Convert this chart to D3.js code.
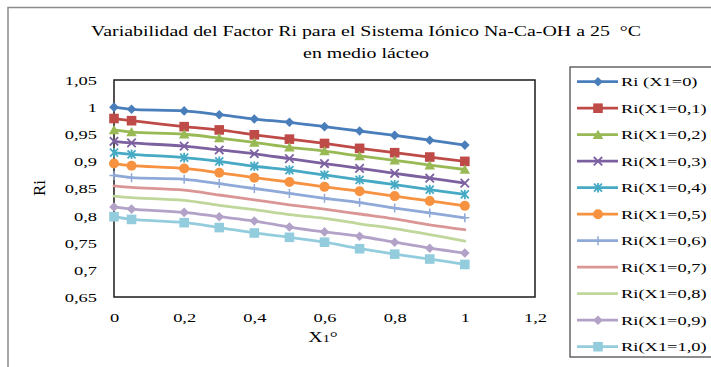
<!DOCTYPE html>
<html>
<head>
<meta charset="utf-8">
<script src="https://cdn.jsdelivr.net/npm/d3@7"></script>
<style>
  html, body { margin: 0; padding: 0; background: #ffffff; }
  svg { display: block; }
  text { font-family: "Liberation Serif", "Times New Roman", serif; fill: #000; white-space: pre; }
</style>
</head>
<body>
<svg id="chart" width="711" height="367"></svg>
<script>
// Fracción X1° (eje horizontal)
const x1Values = [0, 0.05, 0.2, 0.3, 0.4, 0.5, 0.6, 0.7, 0.8, 0.9, 1.0];

// Nombres de las series
const seriesNames = [
  "Ri (X1=0)", "Ri(X1=0,1)", "Ri(X1=0,2)", "Ri(X1=0,3)", "Ri(X1=0,4)", "Ri(X1=0,5)",
  "Ri(X1=0,6)", "Ri(X1=0,7)", "Ri(X1=0,8)", "Ri(X1=0,9)", "Ri(X1=1,0)"
];

// Valores de Ri por serie
const ri00 = [1.000, 0.996, 0.993, 0.986, 0.978, 0.972, 0.964, 0.956, 0.948, 0.939, 0.930];
const ri01 = [0.979, 0.975, 0.964, 0.958, 0.949, 0.941, 0.933, 0.924, 0.916, 0.908, 0.900];
const ri02 = [0.958, 0.954, 0.950, 0.943, 0.935, 0.926, 0.919, 0.910, 0.902, 0.893, 0.885];
const ri03 = [0.937, 0.934, 0.928, 0.921, 0.914, 0.905, 0.896, 0.887, 0.878, 0.869, 0.860];
const ri04 = [0.916, 0.913, 0.907, 0.900, 0.891, 0.884, 0.875, 0.866, 0.857, 0.848, 0.839];
const ri05 = [0.896, 0.892, 0.887, 0.879, 0.870, 0.862, 0.853, 0.845, 0.836, 0.827, 0.818];
const ri06 = [0.874, 0.870, 0.867, 0.859, 0.850, 0.841, 0.832, 0.824, 0.814, 0.805, 0.796];
const ri07 = [0.855, 0.852, 0.847, 0.838, 0.829, 0.820, 0.812, 0.803, 0.794, 0.783, 0.774];
const ri08 = [0.836, 0.833, 0.828, 0.819, 0.811, 0.802, 0.795, 0.785, 0.776, 0.765, 0.753];
const ri09 = [0.816, 0.812, 0.806, 0.798, 0.790, 0.779, 0.770, 0.762, 0.751, 0.740, 0.731];
const ri10 = [0.798, 0.793, 0.787, 0.778, 0.768, 0.760, 0.751, 0.739, 0.729, 0.720, 0.710];

// Marcas de los ejes
const yTickValues = [0.65, 0.7, 0.75, 0.8, 0.85, 0.9, 0.95, 1.0, 1.05];
const xTickValues = [0, 0.2, 0.4, 0.6, 0.8, 1.0, 1.2];

const titleLines = ["Variabilidad del Factor Ri para el Sistema Iónico Na-Ca-OH a 25  °C", "en medio lácteo"];

const seriesValues = [ri00, ri01, ri02, ri03, ri04, ri05, ri06, ri07, ri08, ri09, ri10];
const colors = ["#4A7EBB", "#BE4B48", "#98B954", "#7D60A0", "#46AAC5", "#F69240",
                "#8FA9D8", "#DA9694", "#BFD79A", "#B3A2C7", "#93CDDD"];
const markers = ["diamond", "square", "triangle", "cross", "star", "circle",
                 "plus", "none", "none", "diamond", "square"];

const SX = 1.42; // estiramiento horizontal del texto
const svg = d3.select("#chart");

// Marco exterior del gráfico
svg.append("path")
  .attr("d", "M8,370 L8,7.5 L715,7.5")
  .attr("fill", "none").attr("stroke", "#8c8c8c").attr("stroke-width", 1.5);

// Título
const title = svg.append("g");
titleLines.forEach((t, i) => {
  title.append("text")
    .attr("transform", `translate(366,${36 + i * 22}) scale(${SX},1)`)
    .attr("text-anchor", "middle")
    .attr("font-size", 14)
    .text(t);
});

const plot = { left: 114, right: 535, top: 80, bottom: 297 };
const x = d3.scaleLinear().domain([0, 1.2]).range([plot.left, plot.right]);
const y = d3.scaleLinear().domain([0.65, 1.05]).range([plot.bottom, plot.top]);

const loc = d3.formatLocale({ decimal: ",", thousands: ".", grouping: [3], currency: ["", ""] });

// Eje Y
const yAxis = svg.append("g")
  .attr("transform", `translate(${plot.left},0)`)
  .call(d3.axisLeft(y).tickValues(yTickValues).tickFormat(loc.format(".2~f")).tickSize(0));
yAxis.select(".domain").remove();
yAxis.selectAll("text")
  .attr("x", 0).attr("dy", null)
  .attr("font-family", null).attr("font-size", 13)
  .attr("dominant-baseline", "central")
  .attr("transform", `translate(-17,0) scale(${SX},1)`);

// Eje X
const xAxis = svg.append("g")
  .attr("transform", `translate(0,${plot.bottom})`)
  .call(d3.axisBottom(x).tickValues(xTickValues).tickFormat(loc.format(".1~f")).tickSize(0));
xAxis.select(".domain").remove();
xAxis.selectAll("text")
  .attr("y", 0).attr("dy", null)
  .attr("font-family", null).attr("font-size", 13)
  .attr("dominant-baseline", "central")
  .attr("transform", `translate(0,21) scale(${SX},1)`);

// Marco del área de trazado
svg.append("rect")
  .attr("x", plot.left).attr("y", plot.top)
  .attr("width", plot.right - plot.left).attr("height", plot.bottom - plot.top)
  .attr("fill", "none").attr("stroke", "#1a1a1a").attr("stroke-width", 1.5);

// Títulos de los ejes
const xTitle = svg.append("text")
  .attr("transform", `translate(323,342) scale(${SX},1)`)
  .attr("text-anchor", "middle").attr("font-size", 14);
xTitle.append("tspan").text("X");
xTitle.append("tspan").attr("font-size", 10).text("1");
xTitle.append("tspan").text("°");

svg.append("text")
  .attr("transform", "translate(45,188) rotate(-90)")
  .attr("text-anchor", "middle").attr("font-size", 17)
  .text("Ri");

// Dibujo de marcadores
function drawMarker(g, type, color) {
  if (type === "diamond") {
    const r = 4.8;
    g.append("path").attr("d", `M0,${-r}L${r},0L0,${r}L${-r},0Z`).attr("fill", color);
  } else if (type === "square") {
    const h = 4.8;
    g.append("rect").attr("x", -h).attr("y", -h).attr("width", 2 * h).attr("height", 2 * h).attr("fill", color);
  } else if (type === "triangle") {
    const h = 5;
    g.append("path").attr("d", `M0,${-h}L${h * 1.05},${h * 0.85}L${-h * 1.05},${h * 0.85}Z`).attr("fill", color);
  } else if (type === "circle") {
    g.append("circle").attr("r", 5).attr("fill", color);
  } else if (type === "cross") {
    const h = 4.2;
    g.append("path").attr("d", `M${-h},${-h}L${h},${h}M${-h},${h}L${h},${-h}`)
      .attr("stroke", color).attr("stroke-width", 1.8).attr("fill", "none");
  } else if (type === "star") {
    const h = 4;
    g.append("path").attr("d", `M${-h},${-h}L${h},${h}M${-h},${h}L${h},${-h}M0,${-h * 1.2}L0,${h * 1.2}`)
      .attr("stroke", color).attr("stroke-width", 1.8).attr("fill", "none");
  } else if (type === "plus") {
    const h = 4.5;
    g.append("path").attr("d", `M${-h},0L${h},0M0,${-h}L0,${h}`)
      .attr("stroke", color).attr("stroke-width", 1.5).attr("fill", "none");
  }
}

// Series
const line = d3.line()
  .x(d => x(d[0])).y(d => y(d[1]))
  .curve(d3.curveCatmullRom.alpha(0.5));

seriesValues.forEach((vals, i) => {
  const pts = x1Values.map((xv, j) => [xv, vals[j]]);
  const g = svg.append("g");
  g.append("path").datum(pts)
    .attr("d", line).attr("fill", "none")
    .attr("stroke", colors[i]).attr("stroke-width", 2.8)
    .attr("stroke-linejoin", "round").attr("stroke-linecap", "round");
  pts.forEach(p => {
    const mg = g.append("g").attr("transform", `translate(${x(p[0])},${y(p[1])})`);
    drawMarker(mg, markers[i], colors[i]);
  });
});

// Leyenda
const legend = svg.append("g");
legend.append("rect")
  .attr("x", 570).attr("y", 67).attr("width", 160).attr("height", 290)
  .attr("fill", "#fff").attr("stroke", "#404040").attr("stroke-width", 1.2);
seriesNames.forEach((name, i) => {
  const ly = 81.7 + i * 26.5;
  const g = legend.append("g");
  g.append("line").attr("x1", 577).attr("x2", 618).attr("y1", ly).attr("y2", ly)
    .attr("stroke", colors[i]).attr("stroke-width", 2.8);
  const mg = g.append("g").attr("transform", `translate(598,${ly})`);
  drawMarker(mg, markers[i], colors[i]);
  g.append("text")
    .attr("transform", `translate(621,${ly}) scale(${SX},1)`)
    .attr("dominant-baseline", "central")
    .attr("font-size", 13)
    .text(name);
});
</script>
</body>
</html>
